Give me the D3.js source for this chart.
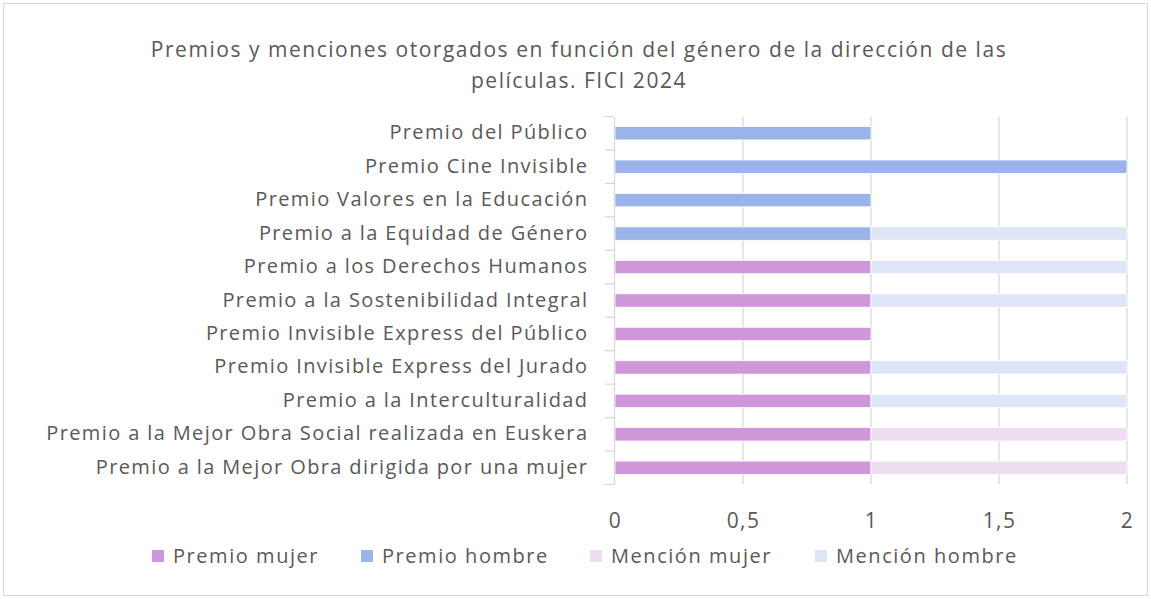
<!DOCTYPE html>
<html><head><meta charset="utf-8">
<script src="https://cdn.jsdelivr.net/npm/d3@7"></script>
<style>body{margin:0;background:#fff;} text{font-family:"Open Sans",sans-serif;}</style>
</head><body>
<svg id="c" width="1151" height="599"></svg>
<script>
const categories = [
  "Premio del Público",
  "Premio Cine Invisible",
  "Premio Valores en la Educación",
  "Premio a la Equidad de Género",
  "Premio a los Derechos Humanos",
  "Premio a la Sostenibilidad Integral",
  "Premio Invisible Express del Público",
  "Premio Invisible Express del Jurado",
  "Premio a la Interculturalidad",
  "Premio a la Mejor Obra Social realizada en Euskera",
  "Premio a la Mejor Obra dirigida por una mujer"
];
const seriesNames = ["Premio mujer", "Premio hombre", "Mención mujer", "Mención hombre"];
const premioMujer   = [0,0,0,0,1,1,1,1,1,1,1];
const premioHombre  = [1,2,1,1,0,0,0,0,0,0,0];
const mencionMujer  = [0,0,0,0,0,0,0,0,0,1,1];
const mencionHombre = [0,0,0,1,1,1,0,1,1,0,0];
const colors = ["#CF96DA", "#9AB3E9", "#EEDCF0", "#DDE5F7"];
const xTicks = [0, 0.5, 1, 1.5, 2];
const xTickLabels = ["0", "0,5", "1", "1,5", "2"];
const titleLines = ["Premios y menciones otorgados en función del género de la dirección de las", "películas. FICI 2024"];

const svg = d3.select("#c");
svg.append("rect").attr("x",3.5).attr("y",3.5).attr("width",1144).attr("height",592)
  .attr("fill","#fff").attr("stroke","#d9d9d9").attr("stroke-width",1);

const top0 = 116.5, bot0 = 484.5;
const x = d3.scaleLinear().domain([0,2]).range([615,1127]);
const y = d3.scaleBand().domain(categories).range([top0,bot0]).paddingInner(0.6).paddingOuter(0.3);

// gridlines
svg.append("g").selectAll("line").data(xTicks.filter(d=>d>0)).join("line")
  .attr("x1",d=>x(d)).attr("x2",d=>x(d)).attr("y1",top0).attr("y2",bot0)
  .attr("stroke","#d9d9d9").attr("stroke-width",1.3);

const rows = categories.map((c,i)=>({cat:c, vals:[premioMujer[i],premioHombre[i],mencionMujer[i],mencionHombre[i]]}));
const stack = d3.stack().keys([0,1,2,3]).value((d,k)=>d.vals[k]);
const stacked = stack(rows);
svg.append("g").selectAll("g").data(stacked).join("g").attr("fill",(d,i)=>colors[i])
  .selectAll("rect").data(d=>d.filter(s=>s[1]-s[0]>0)).join("rect")
  .attr("x",d=>x(d[0])).attr("width",d=>x(d[1])-x(d[0]))
  .attr("y",d=>y(d.data.cat)).attr("height",y.bandwidth())
  .attr("stroke","#fff").attr("stroke-width",0.8);

// category axis
const yAxis = d3.axisLeft(y).tickSize(0).tickPadding(25.6);
const ga = svg.append("g").attr("transform","translate(614,0)").call(yAxis);
ga.select(".domain").attr("stroke","#d9d9d9").attr("stroke-width",1.3);
ga.selectAll("text").attr("font-size",20).attr("fill","#595959").attr("font-family","Open Sans")
  .attr("letter-spacing",1.38).attr("dy","0.3em");
// boundary ticks
const bounds = d3.range(categories.length+1).map(i=>top0 + i*(bot0-top0)/categories.length);
svg.append("g").selectAll("line").data(bounds).join("line")
  .attr("x1",605).attr("x2",614).attr("y1",d=>d).attr("y2",d=>d)
  .attr("stroke","#d9d9d9").attr("stroke-width",1.3);

// x axis labels
const xAxis = d3.axisBottom(x).tickValues(xTicks).tickFormat((d,i)=>xTickLabels[i]).tickSize(0).tickPadding(27);
const gx = svg.append("g").attr("transform","translate(0,484.5)").call(xAxis);
gx.select(".domain").remove();
gx.selectAll("text").attr("font-size",21).attr("fill","#595959").attr("font-family","Open Sans")
  .attr("letter-spacing",1.4).attr("dy","0.77em");

// title
svg.append("g").selectAll("text").data(titleLines).join("text")
  .attr("x",579).attr("y",(d,i)=>56.5+i*31.5).attr("text-anchor","middle")
  .attr("font-size",21).attr("fill","#595959").attr("letter-spacing",1.53).text(d=>d);

// legend
const legendX = [152, 361, 590, 815];
const lg = svg.append("g").selectAll("g").data(seriesNames).join("g")
  .attr("transform",(d,i)=>`translate(${legendX[i]},556)`);
lg.append("rect").attr("x",0).attr("y",-6).attr("width",12).attr("height",12).attr("fill",(d,i)=>colors[i]);
lg.append("text").attr("x",21).attr("y",7).attr("font-size",20).attr("fill","#595959")
  .attr("letter-spacing",1.55).text(d=>d);
</script>
</body></html>
